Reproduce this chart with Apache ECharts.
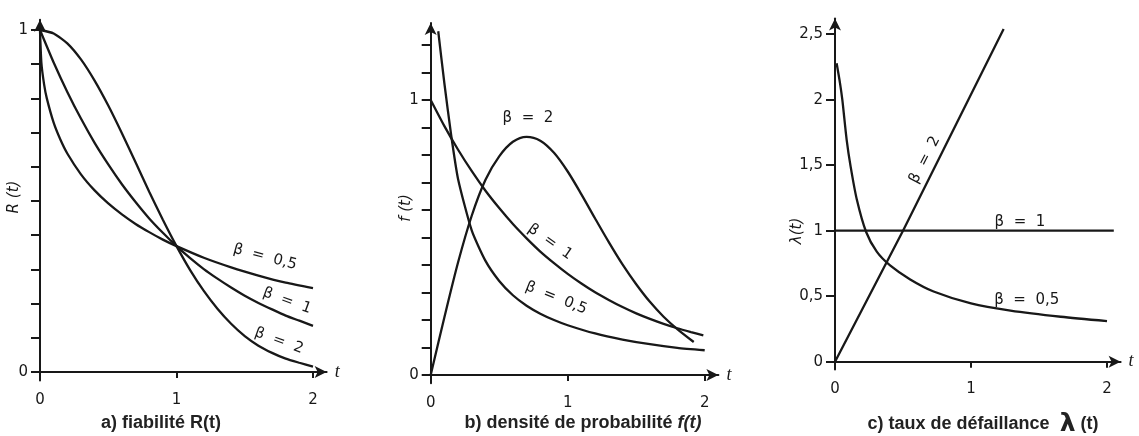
<!DOCTYPE html>
<html>
<head>
<meta charset="utf-8">
<script src="https://cdn.jsdelivr.net/npm/echarts@6/dist/echarts.min.js"></script>
<style>html,body{margin:0;padding:0;background:#fff;}#c{width:1139px;height:436px;}</style>
</head>
<body>
<div id="c"></div>
<script>
// ---------- data ----------
// a) reliability R(t)
const tA = [0,0.1,0.2,0.3,0.4,0.5,0.6,0.7,0.8,0.9,1.0,1.1,1.2,1.3,1.4,1.5,1.6,1.7,1.8,1.9,2.0];
const rBeta1 = [1,0.905,0.819,0.741,0.670,0.607,0.549,0.497,0.449,0.407,0.368,0.333,0.301,0.273,0.247,0.223,0.202,0.183,0.165,0.150,0.135];
const rBeta2 = [1,0.990,0.961,0.914,0.852,0.779,0.698,0.613,0.527,0.445,0.368,0.298,0.237,0.185,0.141,0.105,0.077,0.056,0.039,0.027,0.016];
const tA05 = [0,0.01,0.03,0.05,0.1,0.15,0.2,0.3,0.4,0.5,0.6,0.7,0.8,0.9,1.0,1.2,1.4,1.6,1.8,2.0];
const rBeta05 = [1,0.905,0.841,0.800,0.729,0.679,0.639,0.578,0.531,0.493,0.461,0.433,0.409,0.387,0.368,0.334,0.306,0.282,0.261,0.245];

// b) density f(t)
const tB1 = [0,0.1,0.2,0.3,0.4,0.5,0.6,0.7,0.8,0.9,1.0,1.1,1.2,1.3,1.4,1.5,1.6,1.7,1.8,1.9,1.99];
const fBeta1 = [1,0.905,0.819,0.741,0.670,0.607,0.549,0.497,0.449,0.407,0.368,0.333,0.301,0.273,0.247,0.224,0.204,0.186,0.170,0.156,0.144];
const tB2 = [0,0.1,0.2,0.3,0.4,0.5,0.6,0.7,0.8,0.9,1.0,1.1,1.2,1.3,1.4,1.5,1.6,1.7,1.8,1.92];
const fBeta2 = [0,0.21,0.41,0.58,0.71,0.795,0.848,0.866,0.852,0.808,0.740,0.657,0.569,0.483,0.402,0.330,0.266,0.212,0.167,0.120];
const tB05 = [0.055,0.1,0.15,0.2,0.3,0.4,0.5,0.6,0.7,0.8,0.9,1.0,1.2,1.4,1.6,1.8,2.0];
const fBeta05 = [1.25,1.06,0.87,0.712,0.525,0.415,0.342,0.290,0.252,0.223,0.200,0.181,0.151,0.129,0.112,0.099,0.090];

// c) failure rate lambda(t)
const tC1 = [0,2.05];
const lBeta1 = [1,1];
const tC2 = [0,0.5,1.24];
const lBeta2 = [0,1.0,2.54];
const tC05 = [0.012,0.037,0.054,0.086,0.115,0.16,0.229,0.307,0.405,0.553,0.725,1.0,1.29,1.66,2.0];
const lBeta05 = [2.278,2.125,1.998,1.692,1.489,1.24,0.99,0.84,0.735,0.628,0.536,0.445,0.39,0.343,0.31];

// ticks and tick labels
const xLabels = [0,1,2];
const xTicks = [1,2];
const yTicksA = [0,0.1,0.2,0.3,0.4,0.5,0.6,0.7,0.8,0.9,1.0];
const yLabelsA = [0,1];
const yTicksB = [0,0.1,0.2,0.3,0.4,0.5,0.6,0.7,0.8,0.9,1.0,1.1,1.2];
const yLabelsB = [0,1];
const yTicksC = [0,0.5,1,1.5,2,2.5];
const yLabelsC = [0,0.5,1,1.5,2,2.5];

// ---------- layout ----------
const INK = '#181818';
const NUM_FONT = 'DejaVu Sans';
function gridRect(x0, y0, sx, sy, xmin, xmax, ymin, ymax) {
  return { left: x0 + xmin * sx, top: y0 - ymax * sy, width: (xmax - xmin) * sx, height: (ymax - ymin) * sy,
           containLabel: false, outerBoundsMode: 'none' };
}
const P = [
  { x0: 40,    y0: 372,   sx: 136.5, sy: 342, x: [0, 2.1], y: [-0.025, 1.03] },
  { x0: 430.7, y0: 375,   sx: 137,   sy: 275, x: [0, 2.1], y: [-0.03, 1.28] },
  { x0: 835,   y0: 361.7, sx: 136,   sy: 131, x: [0, 2.1], y: [-0.06, 2.62] }
];
const grids = P.map(p => gridRect(p.x0, p.y0, p.sx, p.sy, p.x[0], p.x[1], p.y[0], p.y[1]));

function xAxisFor(i) {
  return {
    type: 'value', gridIndex: i, min: P[i].x[0], max: P[i].x[1],
    axisLine: { show: true, onZero: true, symbol: ['none', 'arrow'], symbolSize: [9, 12],
                lineStyle: { color: INK, width: 2 } },
    axisTick: { show: true, customValues: xTicks, length: 6, lineStyle: { color: INK, width: 2 } },
    axisLabel: { show: true, customValues: xLabels, margin: 12, fontSize: 15, color: INK, fontFamily: NUM_FONT },
    splitLine: { show: false },
    name: 't', nameLocation: 'end', nameGap: 8,
    nameTextStyle: { fontStyle: 'italic', fontSize: 18, color: INK, fontFamily: 'Liberation Serif' }
  };
}
function yAxisFor(i, ticks, labels, fmt) {
  return {
    type: 'value', gridIndex: i, min: P[i].y[0], max: P[i].y[1],
    axisLine: { show: true, onZero: true, symbol: ['none', 'arrow'], symbolSize: [9, 12],
                lineStyle: { color: INK, width: 2 } },
    axisTick: { show: true, customValues: ticks, length: 9, lineStyle: { color: INK, width: 2 } },
    axisLabel: { show: true, customValues: labels, margin: 12, fontSize: 15, color: INK, fontFamily: NUM_FONT,
                 formatter: fmt || (v => String(v)) },
    splitLine: { show: false }
  };
}
const pairs = (ts, vs) => ts.map((t, k) => [t, vs[k]]);
function curve(i, name, ts, vs, smooth, tag) {
  const s = {
    type: 'line', name: name, xAxisIndex: i, yAxisIndex: i, data: pairs(ts, vs),
    showSymbol: false, smooth: smooth, silent: true,
    lineStyle: { color: INK, width: 2.3 }, itemStyle: { color: INK }
  };
  if (tag) {
    s.markPoint = {
      symbol: 'circle', symbolSize: 0, silent: true, animation: false,
      label: { show: true, position: 'inside', formatter: tag.text, rotate: tag.rot,
               fontSize: 15, color: INK, fontFamily: NUM_FONT },
      data: [{ coord: tag.at, value: 0 }]
    };
  }
  return s;
}

const option = {
  backgroundColor: '#ffffff',
  animation: false,
  grid: grids,
  xAxis: [xAxisFor(0), xAxisFor(1), xAxisFor(2)],
  yAxis: [
    yAxisFor(0, yTicksA, yLabelsA),
    yAxisFor(1, yTicksB, yLabelsB),
    yAxisFor(2, yTicksC, yLabelsC, v => String(v).replace('.', ','))
  ],
  title: [
    { text: 'a) fiabilité R(t)', left: 161, top: 414, textAlign: 'center', padding: 0,
      textStyle: { fontSize: 18, fontWeight: 'bold', color: '#222', fontFamily: 'Liberation Sans' } },
    { text: 'b) densité de probabilité {i|f(t)}', left: 583, top: 414, textAlign: 'center', padding: 0,
      textStyle: { fontSize: 18, fontWeight: 'bold', color: '#222', fontFamily: 'Liberation Sans',
        rich: { i: { fontSize: 18, fontWeight: 'bold', fontStyle: 'italic', color: '#222', fontFamily: 'Liberation Sans' } } } },
    { text: 'c) taux de défaillance  {l|λ} (t)', left: 983, top: 412, textAlign: 'center', padding: 0,
      textStyle: { fontSize: 18, fontWeight: 'bold', color: '#222', fontFamily: 'Liberation Sans',
        rich: { l: { fontSize: 25, fontWeight: 'bold', color: '#222', fontFamily: 'DejaVu Sans' } } } }
  ],
  graphic: [
    { type: 'text', x: 14, y: 197, rotation: Math.PI / 2, silent: true,
      style: { text: 'R (t)', fontSize: 15, fontStyle: 'italic', fontFamily: NUM_FONT, fill: INK, align: 'center', verticalAlign: 'middle' } },
    { type: 'text', x: 406, y: 208, rotation: Math.PI / 2, silent: true,
      style: { text: 'f (t)', fontSize: 15, fontStyle: 'italic', fontFamily: NUM_FONT, fill: INK, align: 'center', verticalAlign: 'middle' } },
    { type: 'text', x: 797, y: 231, rotation: Math.PI / 2, silent: true,
      style: { text: 'λ(t)', fontSize: 15, fontStyle: 'italic', fontFamily: NUM_FONT, fill: INK, align: 'center', verticalAlign: 'middle' } }
  ],
  series: [
    curve(0, 'R β=0,5', tA05, rBeta05, 0.2, { text: 'β  =  0,5', rot: -15, at: [1.648, 0.336] }),
    curve(0, 'R β=1', tA, rBeta1, 0.2, { text: 'β  =  1', rot: -20, at: [1.81, 0.208] }),
    curve(0, 'R β=2', tA, rBeta2, 0.2, { text: 'β  =  2', rot: -20, at: [1.751, 0.091] }),

    curve(1, 'f β=0,5', tB05, fBeta05, 0.2, { text: 'β  =  0,5', rot: -22, at: [0.915, 0.28] }),
    curve(1, 'f β=1', tB1, fBeta1, 0.2, { text: 'β  =  1', rot: -35, at: [0.871, 0.484] }),
    curve(1, 'f β=2', tB2, fBeta2, 0.3, { text: 'β  =  2', rot: 0, at: [0.71, 0.935] }),

    curve(2, 'λ β=0,5', tC05, lBeta05, 0.25, { text: 'β  =  0,5', rot: 0, at: [1.41, 0.471] }),
    curve(2, 'λ β=1', tC1, lBeta1, false, { text: 'β  =  1', rot: 0, at: [1.36, 1.066] }),
    curve(2, 'λ β=2', tC2, lBeta2, false, { text: 'β  =  2', rot: 63, at: [0.66, 1.54] })
  ]
};
const chart = echarts.init(document.getElementById('c'));
chart.setOption(option);
</script>
</body>
</html>
